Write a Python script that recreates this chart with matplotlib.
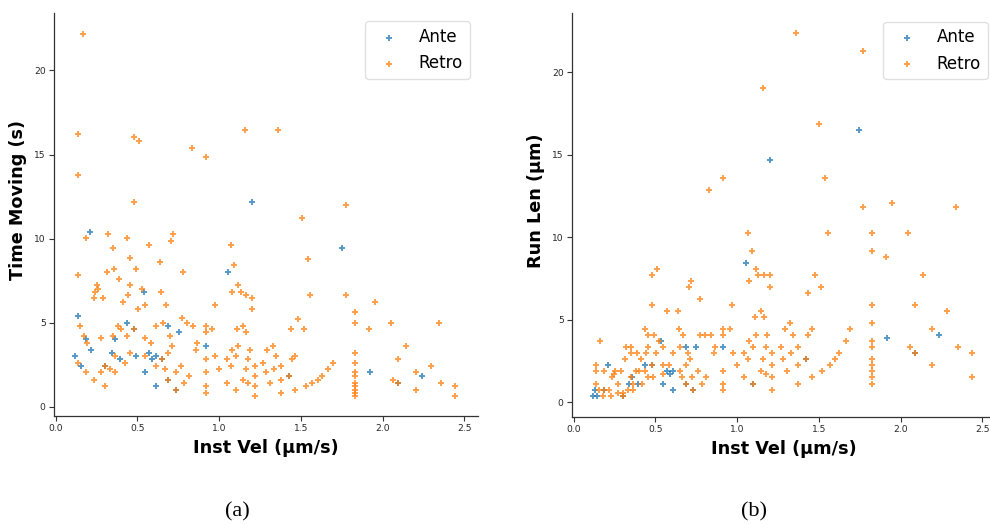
import matplotlib
matplotlib.use("Agg")
import matplotlib.pyplot as plt
import numpy as np

# ---------------- (a) Time moving vs instantaneous velocity ----------------
a_ante_vel = [1.20, 0.212, 1.051, 0.539, 0.133, 0.435, 0.478, 0.688, 0.751, 0.184,
              0.363, 0.917, 0.214, 0.341, 0.488, 0.390, 0.571, 0.588, 0.612, 0.653,
              0.118, 0.153, 0.304, 0.545, 0.688, 0.612, 1.753, 1.925, 2.241, 1.427,
              2.096, 0.733]
a_ante_time = [12.2, 10.4, 8.0, 6.84, 5.4, 5.01, 4.63, 4.83, 4.43, 4.02,
               4.02, 3.62, 3.40, 3.22, 3.02, 2.83, 3.22, 2.83, 3.02, 2.83,
               3.02, 2.43, 2.43, 2.04, 1.62, 1.22, 9.42, 2.04, 1.83, 1.83,
               1.42, 1.02]

a_retro_vel = [0.167, 0.133, 0.478, 0.512, 0.831, 0.917, 1.16, 0.133, 0.478, 1.36, 1.774,
               0.32, 0.184, 0.435, 0.718, 0.708, 0.571, 0.351, 1.07, 0.457, 0.639,
               1.092, 0.316, 0.355, 0.49, 0.778, 0.137, 0.388, 0.253, 0.261, 0.457,
               0.239, 0.527, 0.645, 1.118, 1.078, 1.133, 1.163, 1.202, 0.231, 0.286,
               0.443, 0.414, 0.672, 0.545, 0.506, 0.976, 1.202,
               0.151, 0.382, 0.396, 0.478, 0.612, 0.657, 0.774, 0.806, 0.837, 0.917,
               0.959, 0.917, 0.698, 1.11, 1.147, 1.163, 0.173, 0.194, 0.274, 0.351,
               0.435, 0.545, 0.582, 0.714, 0.865, 0.861, 1.078, 1.118, 1.19, 0.457,
               0.363, 0.545, 0.653, 0.688, 0.917, 0.976, 1.047, 1.102, 1.178, 0.137,
               0.424, 0.304, 0.331, 0.363, 0.184, 0.274, 0.612, 0.667, 0.765, 0.733,
               0.814, 0.917, 0.998, 1.07, 1.163, 1.219, 1.22, 1.27, 0.231, 0.688,
               0.784, 0.917, 1.047, 1.147, 1.178, 1.22, 0.304, 0.733, 0.917, 1.102,
               1.22,
               1.506, 1.541, 1.557, 1.776, 1.953, 1.831, 1.831, 1.482, 1.439, 1.517,
               1.915, 2.051, 2.347, 1.294, 1.327, 1.345, 1.445, 1.464, 1.694, 1.666,
               1.631, 1.602, 1.57, 1.529, 1.466, 1.378, 1.286, 1.335, 1.378, 1.378,
               1.308, 1.427, 1.831, 1.831, 1.831, 1.831, 1.831, 1.831, 1.831, 1.831,
               1.831, 2.141, 2.096, 2.294, 2.203, 2.062, 2.096, 2.358, 2.203, 2.445,
               2.445]
a_retro_time = [22.2, 16.2, 16.06, 15.8, 15.4, 14.85, 16.46, 13.8, 12.2, 16.46, 12.0,
                10.25, 10.03, 10.03, 10.25, 9.83, 9.63, 9.43, 9.63, 8.82, 8.62,
                8.42, 8.0, 8.22, 8.22, 8.0, 7.83, 7.59, 7.25, 7.03, 7.25,
                6.84, 7.03, 6.84, 7.25, 6.84, 6.84, 6.62, 6.44, 6.44, 6.44,
                6.62, 6.24, 6.04, 6.04, 5.82, 6.04, 5.82,
                4.83, 4.83, 4.63, 4.63, 4.83, 5.01, 5.25, 5.01, 4.83, 4.83,
                4.63, 4.43, 4.21, 4.63, 4.83, 4.43, 4.21, 3.80, 4.06, 4.21,
                4.21, 4.06, 3.80, 3.62, 3.80, 3.40, 3.40, 3.62, 3.40, 3.22,
                3.02, 3.02, 2.83, 3.22, 2.83, 3.02, 2.83, 3.02, 2.83, 2.61,
                2.61, 2.43, 2.23, 2.04, 2.04, 2.04, 2.43, 2.23, 2.43, 2.04,
                1.83, 2.04, 2.23, 2.43, 2.23, 2.43, 1.83, 2.61, 1.62, 1.62,
                1.42, 1.22, 1.42, 1.62, 1.42, 1.22, 1.22, 1.02, 0.82, 1.02,
                0.62,
                11.22, 8.8, 6.62, 6.62, 6.22, 5.63, 5.01, 5.23, 4.61, 4.61,
                4.61, 5.01, 5.01, 3.40, 3.62, 3.0, 2.85, 3.0, 2.61, 2.23,
                1.83, 1.58, 1.42, 1.22, 1.02, 0.82, 2.04, 2.23, 2.43, 1.62,
                1.42, 1.83, 3.22, 2.61, 2.04, 1.83, 1.42, 1.22, 1.02, 0.82,
                0.62, 3.62, 2.83, 2.43, 2.04, 1.62, 1.42, 1.42, 1.02, 1.22,
                0.62]

# ---------------- (b) Run length vs instantaneous velocity ----------------
b_ante_vel = [1.198, 1.746, 1.051, 1.917, 2.236, 0.532, 0.685, 0.748, 0.914, 0.212,
              0.436, 0.476, 0.569, 0.588, 0.608, 0.359, 0.335, 0.392, 0.545, 0.685,
              1.097, 0.129, 0.185, 0.610, 0.730, 0.116, 0.143, 0.302, 2.089, 1.424]
b_ante_len = [14.65, 16.48, 8.44, 3.88, 4.06, 3.70, 3.33, 3.33, 3.33, 2.24,
              2.24, 2.24, 1.88, 1.72, 1.88, 1.52, 1.11, 1.11, 1.11, 1.11,
              1.11, 0.75, 0.75, 0.75, 0.75, 0.38, 0.38, 0.38, 2.97, 2.61]

b_retro_vel = [1.155, 0.912, 0.830, 1.357, 1.767, 1.499, 1.538, 1.946, 1.771, 2.340,
               1.553, 1.828, 2.048, 1.828, 1.909, 1.200, 1.479, 1.200, 1.510, 1.432,
               2.136, 1.828, 2.089, 2.287, 1.828, 1.322, 1.291, 1.458, 1.689, 2.195,
               1.340, 1.436, 1.663, 1.828, 1.267, 1.373, 1.828, 2.056, 2.350, 1.216,
               1.332, 1.626, 2.089, 2.436, 1.281, 1.424, 1.597, 1.828, 1.216, 1.373,
               1.567, 1.828, 2.195, 1.304, 1.522, 1.828, 1.216, 1.458, 1.828, 2.436,
               1.373, 1.828, 1.216,
               1.065, 1.088, 1.114, 1.126, 1.163, 1.073, 0.508, 0.476, 0.716, 0.706,
               0.775, 0.476, 0.971, 0.569, 0.636, 1.143, 1.112, 1.163, 0.436, 0.641,
               0.914, 0.957, 0.455, 0.490, 0.671, 0.771, 0.804, 0.837, 0.914, 1.114,
               1.185, 0.163, 0.522, 1.075, 0.320, 0.351, 0.455, 0.547, 0.653, 0.863,
               1.097, 1.175, 0.351, 0.386, 0.441, 0.504, 0.610, 0.700, 0.857, 0.973,
               1.042, 0.316, 0.412, 0.710, 1.065, 1.161, 0.133, 0.476, 0.547, 0.580,
               0.685, 0.998,
               0.133, 0.182, 0.255, 0.286, 0.378, 0.398, 0.436, 0.653, 0.761, 0.914,
               1.144, 0.247, 0.545, 1.175, 0.231, 0.349, 0.453, 0.485, 0.663, 0.726,
               0.812, 1.042, 0.133, 0.271, 0.361, 0.420, 0.685, 0.783, 0.914, 1.097,
               0.155, 0.185, 0.216, 0.330, 0.361, 0.730, 0.914, 0.271, 0.302, 0.179,
               0.228, 0.302]
b_retro_len = [19.01, 13.56, 12.83, 22.35, 21.25, 16.83, 13.56, 12.1, 11.8, 11.8,
               10.24, 10.24, 10.24, 9.15, 8.79, 7.7, 7.7, 6.97, 6.97, 6.6,
               7.7, 5.88, 5.88, 5.52, 4.79, 4.79, 4.42, 4.42, 4.42, 4.42,
               4.06, 4.06, 3.70, 3.70, 3.33, 3.33, 3.33, 3.33, 3.33, 2.97,
               2.97, 2.97, 2.97, 2.97, 2.61, 2.61, 2.61, 2.61, 2.24, 2.24,
               2.24, 2.24, 2.24, 1.88, 1.88, 1.88, 1.52, 1.52, 1.52, 1.52,
               1.11, 1.11, 0.75,
               10.24, 9.15, 8.08, 7.7, 7.7, 7.33, 8.08, 7.7, 7.33, 6.97,
               6.24, 5.88, 5.88, 5.52, 5.52, 5.52, 5.15, 5.15, 4.42, 4.42,
               4.42, 4.42, 4.06, 4.06, 4.06, 4.06, 4.06, 4.06, 4.06, 4.06,
               4.06, 3.70, 3.70, 3.70, 3.33, 3.33, 3.33, 3.33, 3.33, 3.33,
               3.33, 3.33, 2.97, 2.97, 2.97, 2.97, 2.97, 2.97, 2.97, 2.97,
               2.97, 2.61, 2.61, 2.61, 2.61, 2.61, 2.24, 2.24, 2.24, 2.24,
               2.24, 2.24,
               1.88, 1.88, 1.88, 1.88, 1.88, 1.88, 1.88, 1.88, 1.88, 1.88,
               1.88, 1.72, 1.72, 1.72, 1.52, 1.52, 1.52, 1.52, 1.52, 1.52,
               1.52, 1.52, 1.11, 1.11, 1.11, 1.11, 1.11, 1.11, 1.11, 1.11,
               0.75, 0.75, 0.75, 0.75, 0.75, 0.75, 0.75, 0.57, 0.57, 0.38,
               0.38, 0.38]

x_label = "Inst Vel (\u00b5m/s)"
y_labels = ["Time Moving (s)", "Run Len (\u00b5m)"]
captions = ["(a)", "(b)"]
series_names = ["Ante", "Retro"]
colors = ["#1f77b4", "#ff7f0e"]

fig = plt.figure(figsize=(9.9, 5.25), dpi=100)
ax_a = fig.add_axes([54 / 990, 109 / 525, 424 / 990, 403 / 525])
ax_b = fig.add_axes([572 / 990, 108.3 / 525, 424 / 990, 403.4 / 525])

panels = [
    (ax_a, a_ante_vel, a_ante_time, a_retro_vel, a_retro_time, (-0.55, 23.42)),
    (ax_b, b_ante_vel, b_ante_len, b_retro_vel, b_retro_len, (-0.87, 23.56)),
]

for i, (ax, xv1, yv1, xv2, yv2, ylim) in enumerate(panels):
    ax.scatter(xv1, yv1, marker="+", s=22, linewidths=1.4, color=colors[0],
               alpha=0.75, label=series_names[0])
    ax.scatter(xv2, yv2, marker="+", s=22, linewidths=1.4, color=colors[1],
               alpha=0.75, label=series_names[1])
    ax.set_xlim(-0.011, 2.584)
    ax.set_ylim(*ylim)
    ax.set_xticks(np.arange(0, 2.51, 0.5))
    ax.set_yticks([0, 5, 10, 15, 20])
    for side in ("top", "right"):
        ax.spines[side].set_visible(False)
    for side in ("left", "bottom"):
        ax.spines[side].set_color("0.2")
        ax.spines[side].set_linewidth(0.9)
    ax.tick_params(axis="both", labelsize=6.6, length=3.5, width=0.8,
                   color="0.2", labelcolor="0.15", pad=2.5)
    ax.set_xlabel(x_label, fontsize=12.7, fontweight="bold", labelpad=4)
    ax.set_ylabel(y_labels[i], fontsize=12.7, fontweight="bold", labelpad=6)
    ax.yaxis.set_label_coords(-0.064, 0.535)
    leg = ax.legend(loc="upper right", fontsize=12, frameon=True, fancybox=True)
    leg.get_frame().set_edgecolor("0.85")
    for h in leg.legend_handles:
        h.set_alpha(0.75)

fig.text(237 / 990, 1 - 512 / 525, captions[0], ha="center", va="center",
         fontsize=16, family="Liberation Serif")
fig.text(754 / 990, 1 - 512 / 525, captions[1], ha="center", va="center",
         fontsize=16, family="Liberation Serif")

fig.savefig("out.png", dpi=100)
